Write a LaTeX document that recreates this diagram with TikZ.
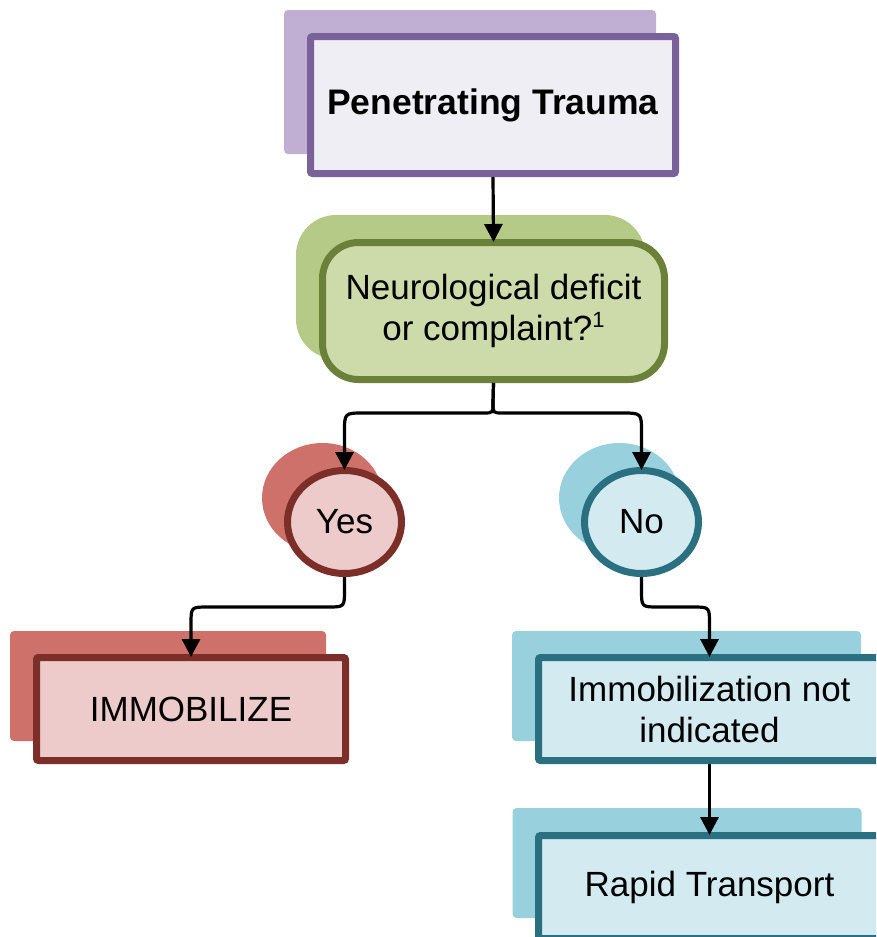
\documentclass[tikz,border=0pt]{standalone}
\usepackage{fontspec}
\setmainfont{Liberation Sans}
\usetikzlibrary{arrows.meta,shapes.geometric}

\definecolor{purpleline}{HTML}{7B6199}
\definecolor{purplefill}{HTML}{F0EEF5}
\definecolor{purpleback}{HTML}{C0AFD3}
\definecolor{greenline}{HTML}{6B8139}
\definecolor{greenfill}{HTML}{CDDBAA}
\definecolor{greenback}{HTML}{B5CA86}
\definecolor{redline}{HTML}{7B2F28}
\definecolor{redfill}{HTML}{EDCBCA}
\definecolor{redback}{HTML}{CE716A}
\definecolor{tealline}{HTML}{2A7080}
\definecolor{tealfill}{HTML}{D2EAF0}
\definecolor{tealback}{HTML}{98D0DD}

\begin{document}
\begin{tikzpicture}[x=1pt,y=-1pt,
  txt/.style={font=\fontsize{35}{41}\selectfont, align=center, text=black},
  mainbox/.style={rectangle, line width=7pt, inner sep=0pt,
    minimum width=342pt, minimum height=103pt, rounded corners=2pt},
  backbox/.style={rectangle, inner sep=0pt, draw=none,
    minimum width=349pt, minimum height=110pt, rounded corners=4pt},
  mainoval/.style={ellipse, line width=7pt, inner sep=0pt,
    minimum width=114pt, minimum height=103pt},
  backoval/.style={ellipse, inner sep=0pt, draw=none,
    minimum width=121pt, minimum height=110pt},
  conn/.style={line width=3.2pt, draw=black, shorten >=-3pt,
    -{Triangle[length=18pt,width=18pt]}},
]
\useasboundingbox (0,0) rectangle (876,937);
\clip (0,0) rectangle (876,937);

% back plates
\node[backbox, fill=purpleback, minimum width=372pt, minimum height=144pt] (traumaback) at (470,82) {};
\node[backbox, fill=greenback, minimum width=349pt, minimum height=144pt, rounded corners=40pt] (questionback) at (470.5,287) {};
\node[backoval, fill=redback] (yesback) at (322.5,498) {};
\node[backoval, fill=tealback] (noback) at (619.5,498) {};
\node[backbox, fill=redback, minimum width=316pt] (immobback) at (168,686) {};
\node[backbox, fill=tealback] (notindback) at (686.5,686) {};
\node[backbox, fill=tealback] (rapidback) at (687,863) {};

% front boxes
\node[mainbox, draw=purpleline, fill=purplefill, minimum width=365pt, minimum height=137pt,
  txt, font=\fontsize{35.5}{41}\selectfont\bfseries] (trauma) at (493,105) {Penetrating Trauma};
\node[mainbox, draw=greenline, fill=greenfill, minimum height=137pt, rounded corners=36pt, txt]
  (question) at (493.5,311) {Neurological deficit\\or complaint?\raisebox{13pt}{\fontsize{22}{22}\selectfont 1}};
\node[mainoval, draw=redline, fill=redfill, txt] (yes) at (344.5,522) {Yes};
\node[mainoval, draw=tealline, fill=tealfill, txt] (no) at (641.5,522) {No};
\node[mainbox, draw=redline, fill=redfill, minimum width=309pt, txt] (immob) at (191,709) {IMMOBILIZE};
\node[mainbox, draw=tealline, fill=tealfill, txt] (notind) at (709.5,709) {Immobilization not\\indicated};
\node[mainbox, draw=tealline, fill=tealfill, txt] (rapid) at (709.5,887) {Rapid Transport};

% connectors
\draw[conn] (trauma.south) -- (question.north);
\draw[conn] (question.south) -- (493,403) .. controls (493,413) .. (483,413)
  -- (364,413) .. controls (344.5,413) .. (344.5,432) -- (yes.north);
\draw[conn] (question.south) -- (493,403) .. controls (493,413) .. (503,413)
  -- (621,413) .. controls (641.5,413) .. (641.5,432) -- (no.north);
\draw[conn] (yes.south) -- (344.5,590) .. controls (344.5,607) .. (327.5,607)
  -- (208,607) .. controls (191,607) .. (191,624) -- (immob.north);
\draw[conn] (no.south) -- (641.5,590) .. controls (641.5,607) .. (658.5,607)
  -- (692.5,607) .. controls (709.5,607) .. (709.5,624) -- (notind.north);
\draw[conn] (notind.south) -- (rapid.north);
\end{tikzpicture}
\end{document}
